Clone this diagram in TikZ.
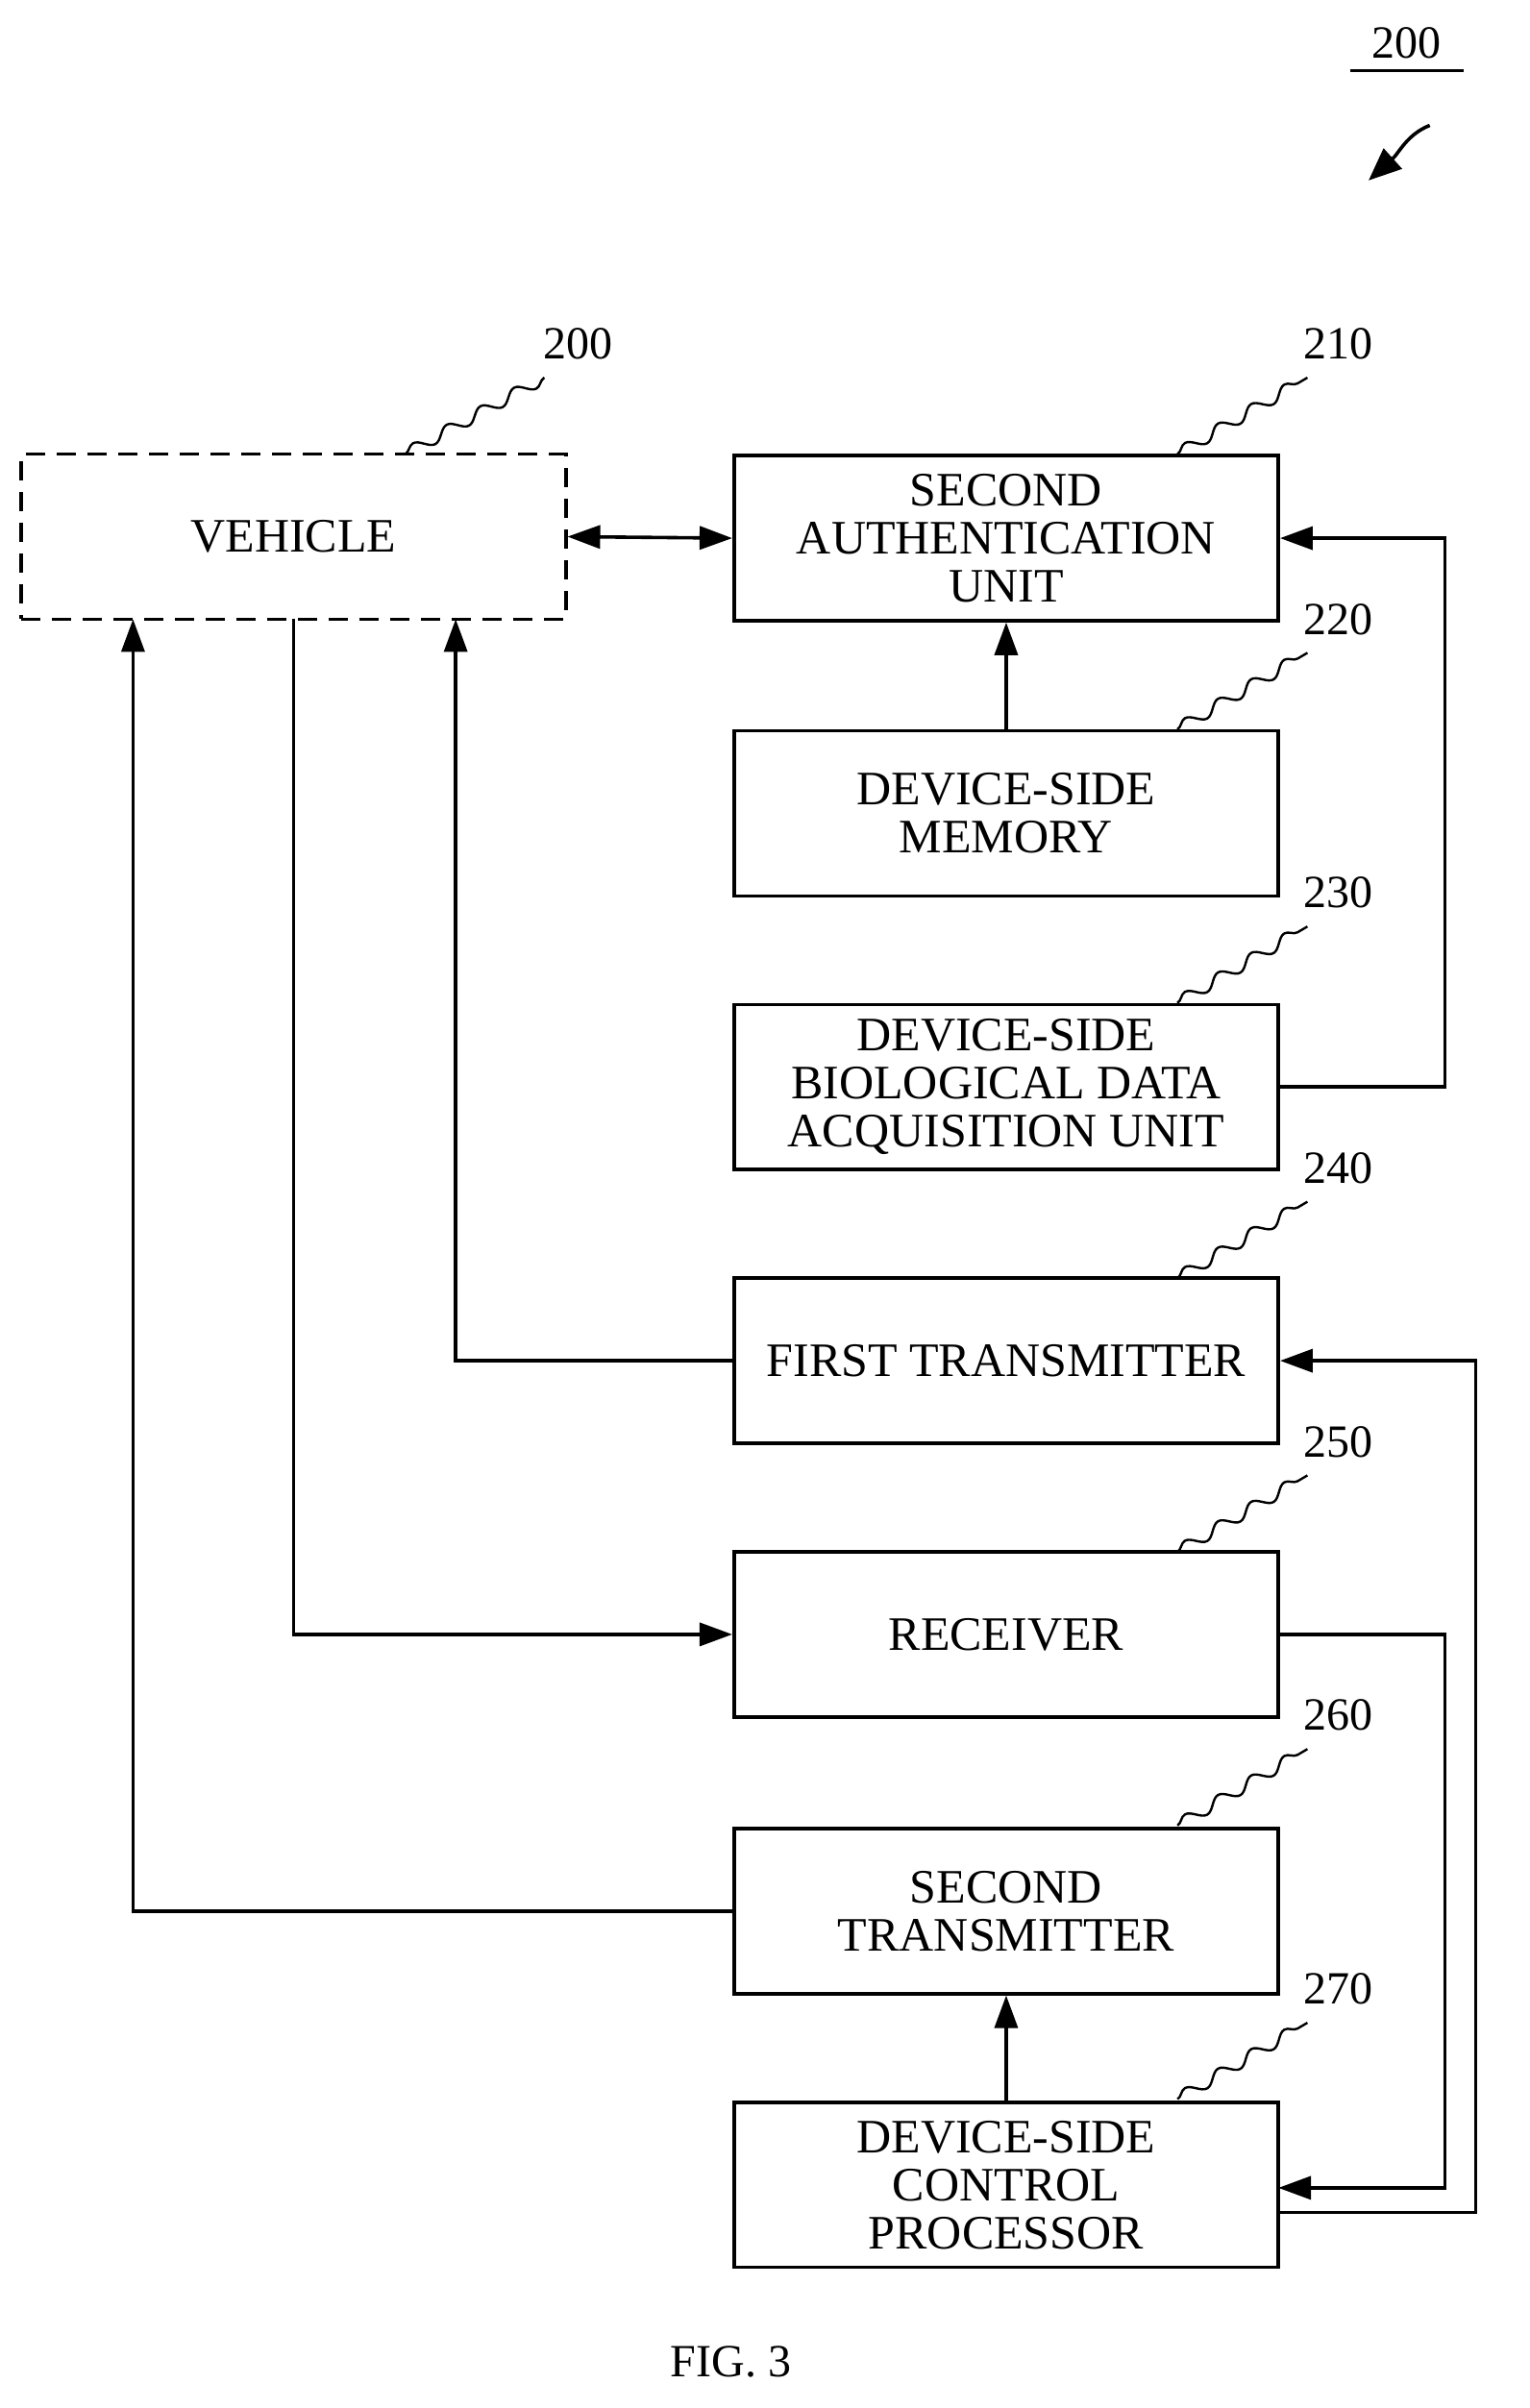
\documentclass[tikz,border=0pt]{standalone}
\usepackage{fontspec}
\setmainfont{Liberation Serif}
\usetikzlibrary{arrows.meta,decorations.pathmorphing}
\begin{document}
\begin{tikzpicture}[x=1.591pt,y=-1.591pt,
  box/.style={draw,line width=3.6pt,minimum width=356*1.591pt,minimum height=108*1.591pt,align=center,inner sep=0pt,font=\fontsize{50}{50}\selectfont},
  con/.style={line width=3.6pt,-{Triangle[length=34pt,width=24pt]}},
  con2/.style={line width=3.6pt,{Triangle[length=34pt,width=24pt]}-{Triangle[length=34pt,width=24pt]}},
  lead/.style={line width=2.4pt,decorate,decoration={snake,amplitude=6pt,segment length=40pt}},
  lab/.style={font=\fontsize{48}{48}\selectfont}]
\useasboundingbox (0,0) rectangle (1000,1575);
\node[box,dash pattern=on 20pt off 12pt] (veh) at (192,351) {VEHICLE};
\node[box] (b210) at (658,352) {SECOND\\AUTHENTICATION\\UNIT};
\node[box] (b220) at (658,532) {DEVICE-SIDE\\MEMORY};
\node[box] (b230) at (658,711) {DEVICE-SIDE\\BIOLOGICAL DATA\\ACQUISITION UNIT};
\node[box] (b240) at (658,890) {FIRST TRANSMITTER};
\node[box] (b250) at (658,1069) {RECEIVER};
\node[box] (b260) at (658,1250) {SECOND\\TRANSMITTER};
\node[box] (b270) at (658,1429) {DEVICE-SIDE\\CONTROL\\PROCESSOR};
\node[lab] (fig) at (478,1545) {FIG. 3};
\foreach \n/\t/\y in {b210/210/225,b220/220/405,b230/230/584,b240/240/764,b250/250/943,b260/260/1122,b270/270/1301}{
  \node[lab] (l\t) at (875,\y) {\t};
  \draw[lead] (770,\y+72) -- (855,\y+22);
}
\node[lab] (l200) at (378,225) {200};
\draw[lead] (265,297) -- (356,247);
\node[lab] (top) at (920,28) {200};
\draw[line width=3pt] (883,46) -- (957,46);
\coordinate (ts) at (935,82);
\coordinate (te) at (895,118);
\draw[line width=3.6pt,-{Triangle[length=34pt,width=28pt]}] (ts) .. controls (920,88) and (915,100) .. (te);
\draw[con2] (veh.east) -- (b210.west);
\draw[con] (b220.north) -- (b210.south);
\draw[con] (b230.east) -- (945,711) -- (945,352) -- (b210.east);
\draw[con] (b240.west) -- (298,890) -- (298,405);
\draw[con] (192,405) -- (192,1069) -- (b250.west);
\draw[con] (b250.east) -- (945,1069) -- (945,1431) -- (836,1431);
\draw[con] (836,1447) -- (965,1447) -- (965,890) -- (b240.east);
\draw[con] (b260.west) -- (87,1250) -- (87,405);
\draw[con] (b270.north) -- (b260.south);
\end{tikzpicture}
\end{document}
